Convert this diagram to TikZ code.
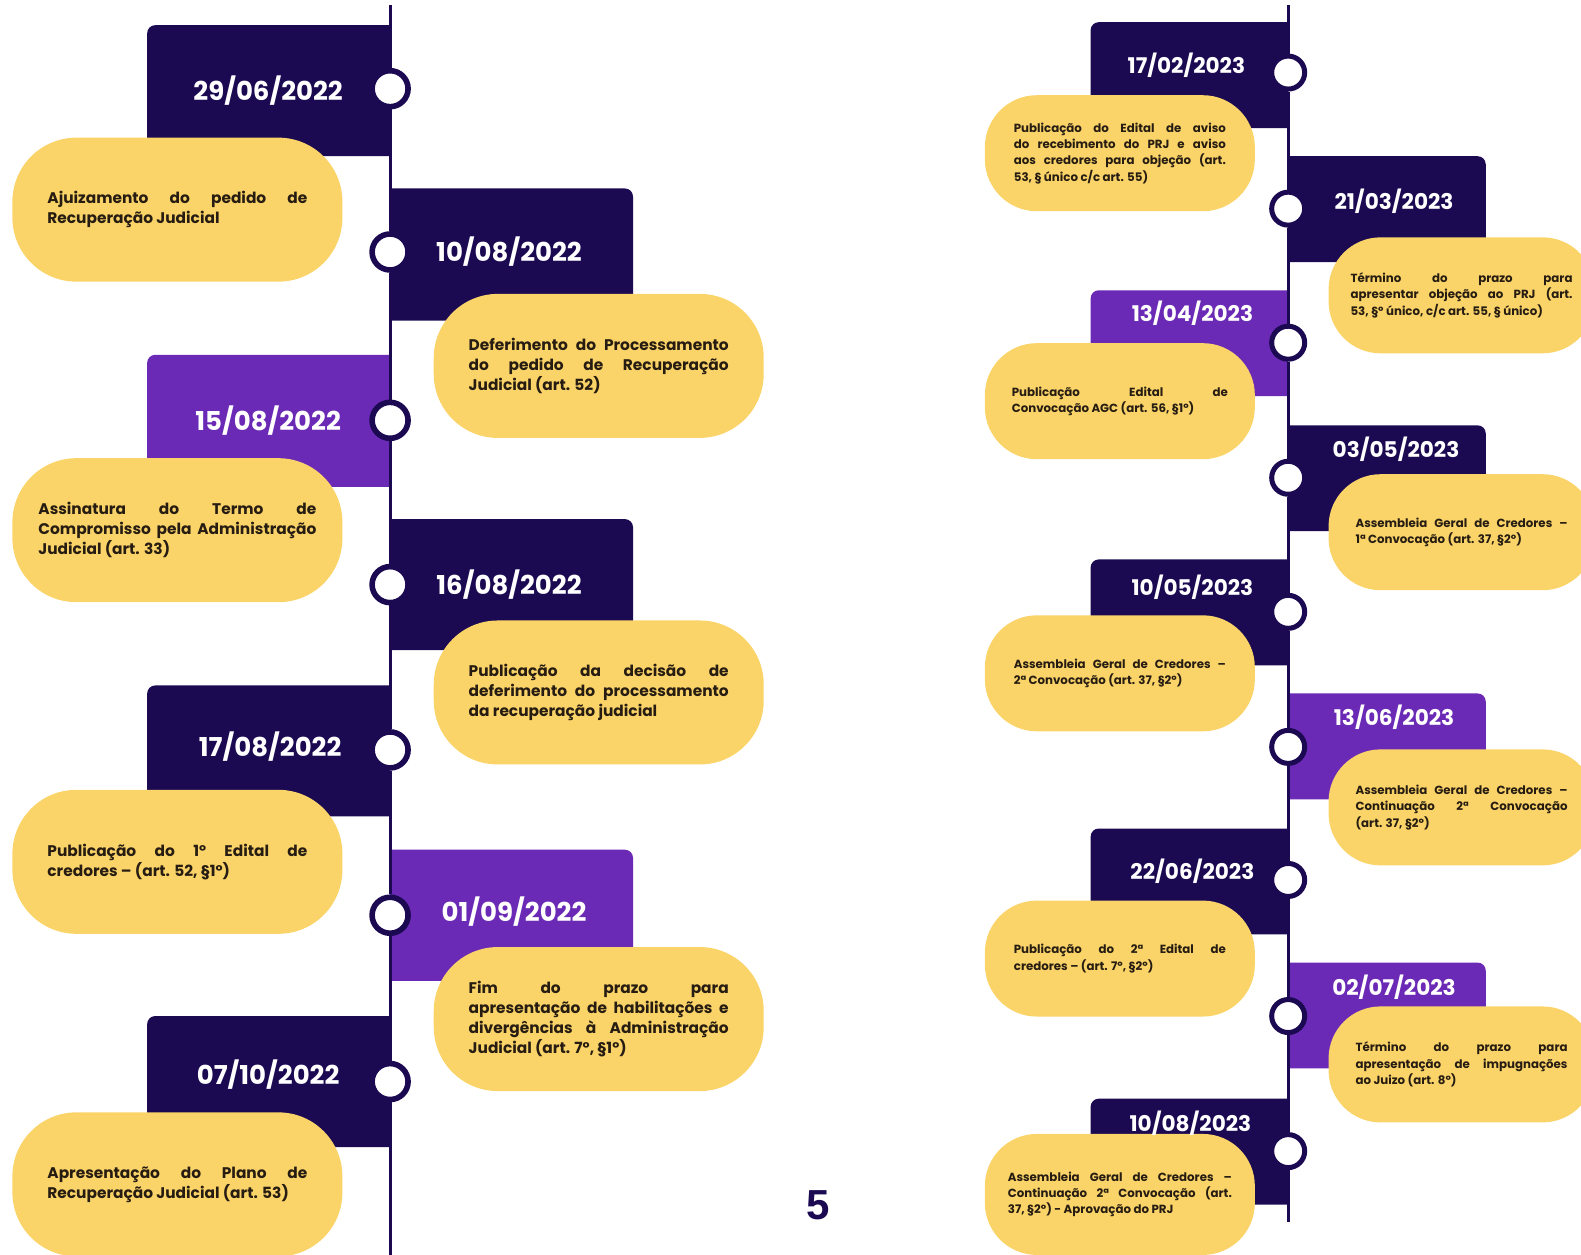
\documentclass[tikz,border=0pt]{standalone}
\usepackage{fontspec}
\setmainfont{Poppins}
\newfontfamily\pagefont{Liberation Sans}
\usepackage{tikz}
\usetikzlibrary{positioning,backgrounds}
\pgfdeclarelayer{bg}
\pgfsetlayers{bg,main}
\tolerance=10000
\hbadness=10000

\definecolor{navy}{RGB}{27,10,82}
\definecolor{grape}{RGB}{107,42,181}
\definecolor{sun}{RGB}{250,212,104}
\definecolor{ink}{RGB}{38,28,18}

\tikzset{
  pillL/.style={fill=sun, rounded corners=32pt, minimum width=165pt, minimum height=72pt, inner sep=0pt, text width=130pt, align=justify, text=ink, font=\fontsize{7.7}{10}\selectfont\bfseries},
  pillR/.style={fill=sun, rounded corners=26pt, minimum width=135pt, minimum height=58pt, inner sep=0pt, text width=106pt, align=justify, text=ink, font=\fontsize{5.9}{8.2}\selectfont\bfseries},
  dateL/.style={text=white, font=\fontsize{13}{15}\selectfont\bfseries},
  dateR/.style={text=white, font=\fontsize{10.8}{12}\selectfont\bfseries},
  dot/.style={circle, draw=navy, fill=white, line width=2.5pt, minimum size=16.5pt, inner sep=0pt},
  bigdot/.style={dot, line width=2.8pt, minimum size=18pt},
  spine/.style={navy, line width=1.5pt},
  pagenum/.style={text=navy, font=\pagefont\fontsize{21}{24}\selectfont\bfseries}
}

\begin{document}
\begin{tikzpicture}[x=0.504pt, y=-0.504pt]
  \useasboundingbox (0,0) rectangle (1568.5,1245);

  % 2022
  \coordinate (topL) at (387,5);
  \coordinate (botL) at (387,1245);
  \node[pillL] (p1) at (176,208) {Ajuizamento do pedido de\linebreak Recuperação Judicial};
  \node[pillL] (p2) at (594,363) {Deferimento do Processamento\linebreak do pedido de Recuperação\linebreak Judicial (art. 52)};
  \node[pillL, text width=139pt] (p3) at (176,526) {Assinatura do Termo de\linebreak Compromisso pela Administração\linebreak Judicial (art. 33)};
  \node[pillL] (p4) at (594,687) {Publicação da decisão de\linebreak deferimento do processamento\linebreak da recuperação judicial};
  \node[pillL] (p5) at (176,855) {Publicação do 1º Edital de\linebreak credores – (art. 52, §1º)};
  \node[pillL] (p6) at (594,1011) {Fim do prazo para\linebreak apresentação de habilitações e\linebreak divergências à Administração\linebreak Judicial (art. 7º, §1º)};
  \node[pillL] (p7) at (176,1175) {Apresentação do Plano de\linebreak Recuperação Judicial (art. 53)};
  \node[dateL] (d1) at (266,90) {29/06/2022};
  \node[dateL] (d2) at (505,250) {10/08/2022};
  \node[dateL] (d3) at (266,417) {15/08/2022};
  \node[dateL] (d4) at (505,580) {16/08/2022};
  \node[dateL] (d5) at (268,741) {17/08/2022};
  \node[dateL] (d6) at (510,904) {01/09/2022};
  \node[dateL] (d7) at (266,1066) {07/10/2022};
  \node[bigdot] (c1) at (387,88) {};
  \node[bigdot] (c2) at (387,250) {};
  \node[bigdot] (c3) at (387,417) {};
  \node[bigdot] (c4) at (387,580) {};
  \node[bigdot] (c5) at (387,744) {};
  \node[bigdot] (c6) at (387,908) {};
  \node[bigdot] (c7) at (387,1073) {};

  % 2023
  \coordinate (topR) at (1278,5);
  \coordinate (botR) at (1278,1212);
  \node[pillR] (r1) at (1111,152) {Publicação do Edital de aviso\linebreak do recebimento do PRJ e aviso\linebreak aos credores para objeção (art.\linebreak 53, § único c/c art. 55)};
  \node[pillR, minimum width=133pt, text width=111pt] (r2) at (1450,293) {Término do prazo para\linebreak apresentar objeção ao PRJ (art.\linebreak 53, §º único, c/c art. 55, § único)};
  \node[pillR, text width=108pt] (r3) at (1111,398) {Publicação Edital de\linebreak \mbox{Convocação AGC (art. 56, §1º)}};
  \node[pillR, minimum width=133pt] (r4) at (1450,528) {Assembleia Geral de Credores –\linebreak 1ª Convocação (art. 37, §2º)};
  \node[pillR] (r5) at (1111,668) {Assembleia Geral de Credores –\linebreak 2ª Convocação (art. 37, §2º)};
  \node[pillR, minimum width=133pt] (r6) at (1450,801) {Assembleia Geral de Credores –\linebreak Continuação 2ª Convocação\linebreak (art. 37, §2º)};
  \node[pillR] (r7) at (1111,951) {Publicação do 2ª Edital de\linebreak credores – (art. 7º, §2º)};
  \node[pillR, minimum width=133pt] (r8) at (1450,1056) {Término do prazo para\linebreak apresentação de impugnações\linebreak ao Juizo (art. 8º)};
  \node[pillR, minimum height=60.5pt, text width=112pt] (r9) at (1111,1185) {Assembleia Geral de Credores –\linebreak Continuação 2ª Convocação (art.\linebreak 37, §2º) - Aprovação do PRJ};
  \node[dateR] (e1) at (1177,65) {17/02/2023};
  \node[dateR] (e2) at (1383,200) {21/03/2023};
  \node[dateR] (e3) at (1183,311) {13/04/2023};
  \node[dateR] (e4) at (1385,446) {03/05/2023};
  \node[dateR] (e5) at (1183,583) {10/05/2023};
  \node[dateR] (e6) at (1383,712) {13/06/2023};
  \node[dateR] (e7) at (1183,864) {22/06/2023};
  \node[dateR] (e8) at (1383,979) {02/07/2023};
  \node[dateR] (e9) at (1181,1114) {10/08/2023};
  \node[dot] (k1) at (1278,72) {};
  \node[dot] (k2) at (1278,207) {};
  \node[dot] (k3) at (1278,340) {};
  \node[dot] (k4) at (1278,474) {};
  \node[dot] (k5) at (1278,607) {};
  \node[dot] (k6) at (1278,741) {};
  \node[dot] (k7) at (1278,873) {};
  \node[dot] (k8) at (1278,1008) {};
  \node[dot] (k9) at (1278,1142) {};

  \node[pagenum] (page) at (812,1196) {5};

  \begin{pgfonlayer}{bg}
    \fill[navy] (387,155) -- (146,155) -- (146,33) arc[start angle=180, end angle=270, radius=8] -- (387,25) -- cycle;
    \fill[navy] (387,318) -- (387,187) -- (620,187) arc[start angle=270, end angle=360, radius=8] -- (628,318) -- cycle;
    \fill[grape] (387,483) -- (146,483) -- (146,360) arc[start angle=180, end angle=270, radius=8] -- (387,352) -- cycle;
    \fill[navy] (387,645) -- (387,515) -- (620,515) arc[start angle=270, end angle=360, radius=8] -- (628,645) -- cycle;
    \fill[navy] (387,810) -- (146,810) -- (146,688) arc[start angle=180, end angle=270, radius=8] -- (387,680) -- cycle;
    \fill[grape] (387,973) -- (387,843) -- (620,843) arc[start angle=270, end angle=360, radius=8] -- (628,973) -- cycle;
    \fill[navy] (387,1138) -- (146,1138) -- (146,1016) arc[start angle=180, end angle=270, radius=8] -- (387,1008) -- cycle;

    \fill[navy] (1278,127) -- (1082,127) -- (1082,30) arc[start angle=180, end angle=270, radius=8] -- (1278,22) -- cycle;
    \fill[navy] (1278,260) -- (1278,155) -- (1466,155) arc[start angle=270, end angle=360, radius=8] -- (1474,260) -- cycle;
    \fill[grape] (1278,393) -- (1082,393) -- (1082,296) arc[start angle=180, end angle=270, radius=8] -- (1278,288) -- cycle;
    \fill[navy] (1278,527) -- (1278,422) -- (1466,422) arc[start angle=270, end angle=360, radius=8] -- (1474,527) -- cycle;
    \fill[navy] (1278,660) -- (1082,660) -- (1082,563) arc[start angle=180, end angle=270, radius=8] -- (1278,555) -- cycle;
    \fill[grape] (1278,793) -- (1278,688) -- (1466,688) arc[start angle=270, end angle=360, radius=8] -- (1474,793) -- cycle;
    \fill[navy] (1278,927) -- (1082,927) -- (1082,830) arc[start angle=180, end angle=270, radius=8] -- (1278,822) -- cycle;
    \fill[grape] (1278,1060) -- (1278,955) -- (1466,955) arc[start angle=270, end angle=360, radius=8] -- (1474,1060) -- cycle;
    \fill[navy] (1278,1195) -- (1082,1195) -- (1082,1098) arc[start angle=180, end angle=270, radius=8] -- (1278,1090) -- cycle;

    \draw[spine] (topL) -- (c1) -- (c2) -- (c3) -- (c4) -- (c5) -- (c6) -- (c7) -- (botL);
    \draw[spine] (topR) -- (k1) -- (k2) -- (k3) -- (k4) -- (k5) -- (k6) -- (k7) -- (k8) -- (k9) -- (botR);
  \end{pgfonlayer}
\end{tikzpicture}
\end{document}
